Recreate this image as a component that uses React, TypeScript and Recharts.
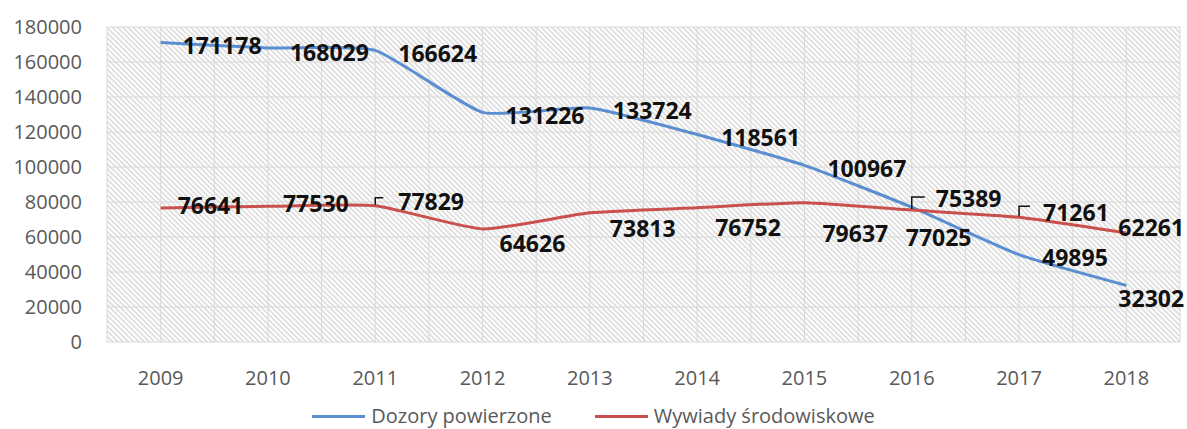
import React from 'react';
import { LineChart, Line, XAxis, YAxis, CartesianGrid, Legend, LabelList } from 'recharts';

const years = ['2009', '2010', '2011', '2012', '2013', '2014', '2015', '2016', '2017', '2018'];
const dozory = [171178, 168029, 166624, 131226, 133724, 118561, 100967, 77025, 49895, 32302];
const wywiady = [76641, 77530, 77829, 64626, 73813, 76752, 79637, 75389, 71261, 62261];
const yTicks = [0, 20000, 40000, 60000, 80000, 100000, 120000, 140000, 160000, 180000];

const seriesNames = ['Dozory powierzone', 'Wywiady środowiskowe'];
const BLUE = '#5a8ed0';
const RED = '#c9504d';

// label placement per point: [dx, dy, leader length] relative to the point
const blueLabelPos = [
  [22, 3, 0], [22, 4, 0], [23, 3, 0], [23, 3, 0], [23, 2, 0],
  [24, 2, 0], [23, 3, 0], [-6, 30, 0], [23, 2, 0], [-8, 13, 0],
];
const redLabelPos = [
  [17, -3, 0], [15, -3, 0], [23, -5, 8], [17, 14, 0], [20, 15, 0],
  [18, 19, 0], [18, 30, 0], [24, -12, 13], [24, -5, 11], [-8, -6, 0],
];

const data = years.map((year, i) => ({ year, dozory: dozory[i], wywiady: wywiady[i] }));

// cardinal spline, a bit tighter than catmull-rom, close to Excel's smoothed line
const cardinal = (tension: number) => (context: any) => {
  const k = (1 - tension) / 6;
  let x0 = NaN, x1 = NaN, x2 = NaN, y0 = NaN, y1 = NaN, y2 = NaN;
  let state = 0;
  let line = NaN;
  const seg = (x: number, y: number) => {
    context.bezierCurveTo(x1 + k * (x2 - x0), y1 + k * (y2 - y0), x2 + k * (x1 - x), y2 + k * (y1 - y), x2, y2);
  };
  return {
    areaStart() { line = 0; },
    areaEnd() { line = NaN; },
    lineStart() {
      x0 = x1 = x2 = y0 = y1 = y2 = NaN;
      state = 0;
    },
    lineEnd() {
      if (state === 2) context.lineTo(x2, y2);
      else if (state === 3) seg(x1, y1);
      if (line || (line !== 0 && state === 1)) context.closePath();
      line = 1 - line;
    },
    point(x: number, y: number) {
      x = +x; y = +y;
      if (state === 0) {
        state = 1;
        line ? context.lineTo(x, y) : context.moveTo(x, y);
      } else if (state === 1) {
        state = 2;
        x1 = x; y1 = y;
      } else {
        state = 3;
        seg(x, y);
      }
      x0 = x1; x1 = x2; x2 = x;
      y0 = y1; y1 = y2; y2 = y;
    },
  };
};
const smooth = cardinal(0.5);

const makeLabel = (pos: number[][]) => (props: any) => {
  const x = props.x ?? props.viewBox?.x;
  const y = props.y ?? props.viewBox?.y;
  const [dx, dy, lead] = pos[props.index];
  return (
    <g>
      {lead > 0 && (
        <path d={`M${x},${y - 1} V${y - lead} H${x + lead}`} stroke="#111" strokeWidth={1.5} fill="none" />
      )}
      <text
        x={x + dx}
        y={y + dy}
        textAnchor="start"
        dominantBaseline="central"
        fontFamily="Open Sans"
        fontWeight={700}
        fontSize={23}
        fill="#111"
      >
        {props.value}
      </text>
    </g>
  );
};

const LegendContent = () => (
  <div style={{ height: 26, display: 'flex', justifyContent: 'center', alignItems: 'center', gap: 43 }}>
    {seriesNames.map((name, i) => (
      <div key={name} style={{ display: 'flex', alignItems: 'center' }}>
        <div style={{ width: 53, height: 3, background: i === 0 ? BLUE : RED, marginRight: 6 }} />
        <span style={{ fontFamily: 'Open Sans', fontSize: 20, color: '#595959', lineHeight: '26px' }}>{name}</span>
      </div>
    ))}
  </div>
);

const App: React.FC = () => {
  const tick = { fontFamily: 'Open Sans', fontSize: 20, fill: '#595959' };
  return (
    <div style={{ position: 'absolute', left: 0, top: 0, background: '#fff' }}>
      <LineChart width={1187} height={429} data={data} margin={{ top: 27, right: 7, left: 7, bottom: 0 }}>
        <defs>
          <pattern id="hatch" patternUnits="userSpaceOnUse" width={3.7} height={3.7} patternTransform="rotate(-45)">
            <rect width={3.7} height={3.7} fill="#ffffff" />
            <line x1={0.8} y1={0} x2={0.8} y2={3.7} stroke="#d6d6d6" strokeWidth={1.4} />
          </pattern>
        </defs>
        <CartesianGrid
          fill="url(#hatch)"
          stroke="#d9d9d9"
          strokeWidth={1}
          verticalCoordinatesGenerator={({ offset }: any) =>
            Array.from({ length: 21 }, (_, i) => offset.left + (offset.width * i) / 20)
          }
        />
        <XAxis
          dataKey="year"
          height={61}
          axisLine={false}
          tickLine={false}
          tickSize={0}
          tickMargin={29}
          tick={tick}
          padding={{ left: 53.65, right: 53.65 }}
          interval={0}
        />
        <YAxis
          width={100}
          domain={[0, 180000]}
          ticks={yTicks}
          axisLine={false}
          tickLine={false}
          tickSize={0}
          tickMargin={25}
          tick={tick}
          interval={0}
        />
        <Legend verticalAlign="bottom" content={<LegendContent />} />
        <Line
          type={smooth as any}
          dataKey="dozory"
          name={seriesNames[0]}
          stroke={BLUE}
          strokeWidth={3}
          dot={false}
          activeDot={false}
          isAnimationActive={false}
        >
          <LabelList dataKey="dozory" content={makeLabel(blueLabelPos)} />
        </Line>
        <Line
          type={smooth as any}
          dataKey="wywiady"
          name={seriesNames[1]}
          stroke={RED}
          strokeWidth={3}
          dot={false}
          activeDot={false}
          isAnimationActive={false}
        >
          <LabelList dataKey="wywiady" content={makeLabel(redLabelPos)} />
        </Line>
      </LineChart>
    </div>
  );
};

export default App;
